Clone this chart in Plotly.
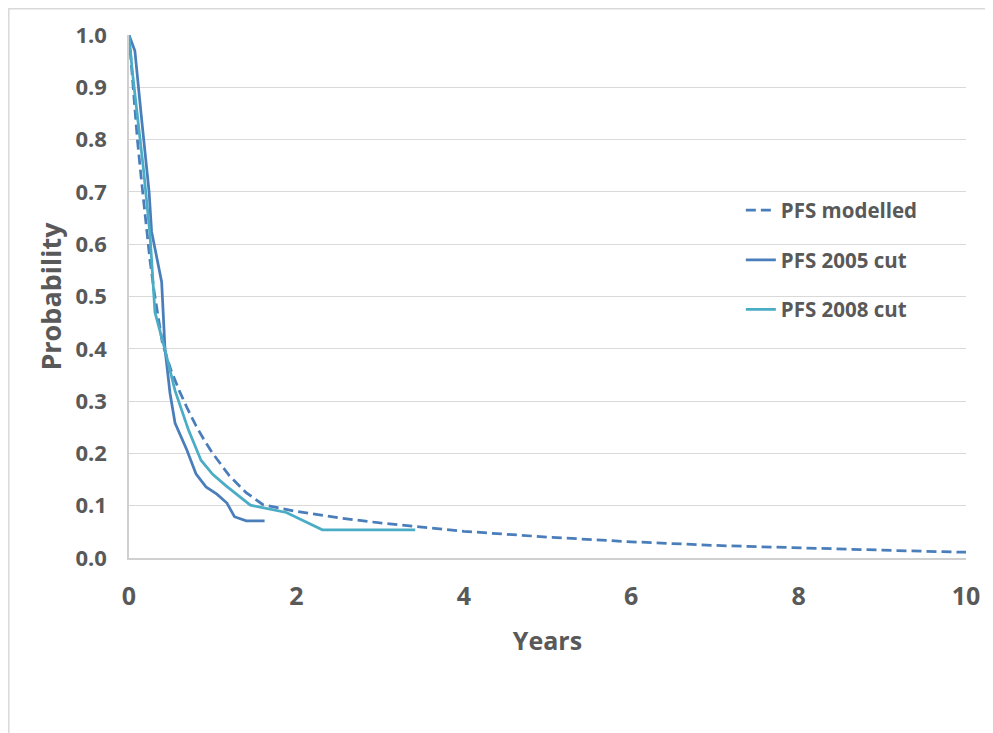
import plotly.graph_objects as go

# Data
years_modelled = [0, 0.05, 0.1, 0.15, 0.2, 0.25, 0.3, 0.35, 0.4, 0.5, 0.6, 0.7, 0.8, 0.9,
                  1.0, 1.2, 1.4, 1.6, 2.0, 2.5, 3.0, 3.5, 4.0, 5.0, 6.0, 7.0, 8.0, 9.0, 10.0]
pfs_modelled = [1.0, 0.9, 0.80, 0.72, 0.64, 0.57, 0.51, 0.46, 0.41, 0.36, 0.32, 0.285, 0.253, 0.225,
                0.2, 0.157, 0.125, 0.102, 0.089, 0.077, 0.067, 0.059, 0.051, 0.04, 0.031, 0.024,
                0.019, 0.015, 0.011]

years_2005 = [0, 0.07, 0.15, 0.24, 0.27, 0.39, 0.43, 0.49, 0.55, 0.69, 0.80, 0.92, 1.05, 1.17,
              1.26, 1.40, 1.62]
pfs_2005 = [1.0, 0.97, 0.84, 0.70, 0.624, 0.528, 0.40, 0.315, 0.258, 0.207, 0.161, 0.136, 0.122,
            0.105, 0.079, 0.071, 0.071]

years_2008 = [0, 0.04, 0.09, 0.17, 0.25, 0.31, 0.43, 0.55, 0.71, 0.86, 1.0, 1.16, 1.45, 1.88,
              2.31, 3.42]
pfs_2008 = [1.0, 0.93, 0.86, 0.748, 0.62, 0.47, 0.398, 0.32, 0.245, 0.187, 0.16, 0.138, 0.101,
            0.087, 0.054, 0.054]

x_ticks = [0, 2, 4, 6, 8, 10]
y_ticks = [0.0, 0.1, 0.2, 0.3, 0.4, 0.5, 0.6, 0.7, 0.8, 0.9, 1.0]

FONT = "'Open Sans', Lato, sans-serif"
GREY = "#595959"

fig = go.Figure()
fig.add_trace(go.Scatter(x=years_modelled, y=pfs_modelled, mode="lines", name="PFS modelled",
                         legendgroup="a",
                         line=dict(color="#4a7ebb", width=2.75, dash="10px,5px")))
fig.add_trace(go.Scatter(x=years_2005, y=pfs_2005, mode="lines", name="PFS 2005 cut",
                         legendgroup="b",
                         line=dict(color="#4a7ebb", width=2.75)))
fig.add_trace(go.Scatter(x=years_2008, y=pfs_2008, mode="lines", name="PFS 2008 cut",
                         legendgroup="c",
                         line=dict(color="#4bacc6", width=2.75)))

fig.update_layout(
    width=985, height=725,
    margin=dict(l=121, r=27, t=27, b=175),
    paper_bgcolor="white", plot_bgcolor="white",
    font=dict(family=FONT, color=GREY),
    showlegend=True,
    legend=dict(x=0.731, y=0.703, xanchor="left", yanchor="top",
                font=dict(family=FONT, size=20.5, color=GREY, weight="bold"),
                traceorder="grouped", tracegroupgap=20,
                bgcolor="rgba(0,0,0,0)"),
    xaxis=dict(range=[0, 10], tickvals=x_ticks, ticktext=[str(v) for v in x_ticks],
               showgrid=False, zeroline=False,
               showline=True, linecolor="#d0d0d0", linewidth=1.5,
               ticks="", ticklabelstandoff=15,
               tickfont=dict(family=FONT, size=25, color=GREY, weight="bold"),
               title=dict(text="Years", standoff=22,
                          font=dict(family=FONT, size=25, color=GREY, weight="bold"))),
    yaxis=dict(range=[0, 1], tickvals=y_ticks, ticktext=[f"{v:.1f}" for v in y_ticks],
               showgrid=True, gridcolor="#d9d9d9", gridwidth=1.3, zeroline=False,
               showline=True, linecolor="#d0d0d0", linewidth=1.5,
               ticks="", ticklabelstandoff=16,
               tickfont=dict(family=FONT, size=22, color=GREY, weight="bold"),
               title=dict(text="Probability", standoff=6,
                          font=dict(family=FONT, size=27, color=GREY, weight="bold"))),
    shapes=[dict(type="rect", xref="paper", yref="paper",
                 x0=(0.8 - 121) / 837, x1=1.2, y0=-0.5, y1=(523 + 27 - 0.8) / 523,
                 line=dict(color="#d9d9d9", width=1.5), fillcolor="rgba(0,0,0,0)", layer="below")],
)

fig.write_html("out.html")
